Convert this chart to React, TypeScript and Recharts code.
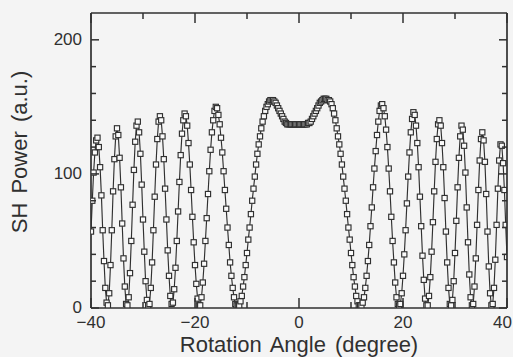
import React from 'react';
import { LineChart, Line, XAxis, YAxis } from 'recharts';

// Rotation angle (degree), 0.25 degree steps
const ANGLE = [
  -40, -39.75, -39.5, -39.25, -39, -38.75, -38.5, -38.25,
  -38, -37.75, -37.5, -37.25, -37, -36.75, -36.5, -36.25,
  -36, -35.75, -35.5, -35.25, -35, -34.75, -34.5, -34.25,
  -34, -33.75, -33.5, -33.25, -33, -32.75, -32.5, -32.25,
  -32, -31.75, -31.5, -31.25, -31, -30.75, -30.5, -30.25,
  -30, -29.75, -29.5, -29.25, -29, -28.75, -28.5, -28.25,
  -28, -27.75, -27.5, -27.25, -27, -26.75, -26.5, -26.25,
  -26, -25.75, -25.5, -25.25, -25, -24.75, -24.5, -24.25,
  -24, -23.75, -23.5, -23.25, -23, -22.75, -22.5, -22.25,
  -22, -21.75, -21.5, -21.25, -21, -20.75, -20.5, -20.25,
  -20, -19.75, -19.5, -19.25, -19, -18.75, -18.5, -18.25,
  -18, -17.75, -17.5, -17.25, -17, -16.75, -16.5, -16.25,
  -16, -15.75, -15.5, -15.25, -15, -14.75, -14.5, -14.25,
  -14, -13.75, -13.5, -13.25, -13, -12.75, -12.5, -12.25,
  -12, -11.75, -11.5, -11.25, -11, -10.75, -10.5, -10.25,
  -10, -9.75, -9.5, -9.25, -9, -8.75, -8.5, -8.25,
  -8, -7.75, -7.5, -7.25, -7, -6.75, -6.5, -6.25,
  -6, -5.75, -5.5, -5.25, -5, -4.75, -4.5, -4.25,
  -4, -3.75, -3.5, -3.25, -3, -2.75, -2.5, -2.25,
  -2, -1.75, -1.5, -1.25, -1, -0.75, -0.5, -0.25,
  0,
  0.25, 0.5, 0.75, 1, 1.25, 1.5, 1.75, 2,
  2.25, 2.5, 2.75, 3, 3.25, 3.5, 3.75, 4,
  4.25, 4.5, 4.75, 5, 5.25, 5.5, 5.75, 6,
  6.25, 6.5, 6.75, 7, 7.25, 7.5, 7.75, 8,
  8.25, 8.5, 8.75, 9, 9.25, 9.5, 9.75, 10,
  10.25, 10.5, 10.75, 11, 11.25, 11.5, 11.75, 12,
  12.25, 12.5, 12.75, 13, 13.25, 13.5, 13.75, 14,
  14.25, 14.5, 14.75, 15, 15.25, 15.5, 15.75, 16,
  16.25, 16.5, 16.75, 17, 17.25, 17.5, 17.75, 18,
  18.25, 18.5, 18.75, 19, 19.25, 19.5, 19.75, 20,
  20.25, 20.5, 20.75, 21, 21.25, 21.5, 21.75, 22,
  22.25, 22.5, 22.75, 23, 23.25, 23.5, 23.75, 24,
  24.25, 24.5, 24.75, 25, 25.25, 25.5, 25.75, 26,
  26.25, 26.5, 26.75, 27, 27.25, 27.5, 27.75, 28,
  28.25, 28.5, 28.75, 29, 29.25, 29.5, 29.75, 30,
  30.25, 30.5, 30.75, 31, 31.25, 31.5, 31.75, 32,
  32.25, 32.5, 32.75, 33, 33.25, 33.5, 33.75, 34,
  34.25, 34.5, 34.75, 35, 35.25, 35.5, 35.75, 36,
  36.25, 36.5, 36.75, 37, 37.25, 37.5, 37.75, 38,
  38.25, 38.5, 38.75, 39, 39.25, 39.5, 39.75, 40,
];

// SH power (a.u.)
const SH_POWER = [
  57, 80, 101, 116, 125, 127, 120, 105,
  84, 58, 35, 15, 4, 2, 11, 32,
  58, 87, 111, 128, 134, 129, 112, 90,
  63, 37, 16, 3, 2, 8, 26, 50,
  77, 103, 124, 136, 139, 131, 115, 92,
  66, 42, 20, 6, 2, 3, 15, 34,
  58, 83, 107, 126, 139, 143, 140, 128,
  111, 89, 66, 43, 24, 9, 3, 4,
  14, 30, 50, 72, 94, 114, 130, 140,
  145, 143, 136, 123, 107, 88, 68, 49,
  32, 18, 7, 2, 2, 8, 19, 33,
  50, 67, 85, 102, 118, 131, 140, 147,
  150, 149, 144, 137, 127, 116, 102, 88,
  74, 60, 47, 34, 24, 15, 8, 3,
  2, 2, 2, 5, 9, 16, 23, 32,
  41, 51, 60, 70, 80, 89, 98, 107,
  115, 122, 128, 134, 139, 143, 147, 150,
  152, 154, 155, 155, 155, 154, 153, 151,
  149, 147, 145, 143, 141, 139, 138, 137,
  137, 137, 137, 137, 137, 137, 137, 137,
  137,
  137, 137, 137, 137, 137, 137, 138, 138,
  139, 141, 143, 145, 147, 149, 151, 153,
  154, 155, 156, 156, 156, 155, 155, 154,
  152, 149, 145, 140, 134, 128, 122, 115,
  107, 98, 89, 80, 70, 60, 51, 41,
  32, 23, 16, 9, 5, 2, 2, 2,
  4, 8, 15, 24, 35, 47, 61, 75,
  90, 104, 117, 129, 139, 147, 151, 152,
  149, 143, 133, 120, 104, 87, 68, 50,
  34, 19, 8, 3, 2, 3, 11, 24,
  40, 58, 78, 98, 116, 131, 141, 146,
  144, 136, 123, 105, 83, 61, 39, 21,
  7, 2, 2, 9, 23, 42, 64, 87,
  109, 126, 137, 140, 136, 123, 105, 82,
  57, 34, 15, 3, 2, 6, 20, 41,
  65, 90, 112, 128, 136, 133, 121, 101,
  75, 49, 25, 8, 2, 3, 16, 37,
  62, 88, 110, 126, 131, 125, 109, 85,
  57, 31, 11, 2, 3, 15, 36, 62,
  89, 110, 122, 121, 108, 88, 62, 38,
];

const X_TICKS = [-40, -30, -20, -10, 0, 10, 20, 30, 40];
const X_LABELS = [-40, -20, 0, 20, 40];
const Y_TICKS = [0, 20, 40, 60, 80, 100, 120, 140, 160, 180, 200];
const Y_LABELS = [0, 100, 200];
const X_DOMAIN = [-40, 40];
const Y_DOMAIN = [0, 220];

const X_TITLE = 'Rotation Angle (degree)';
const Y_TITLE = 'SH Power (a.u.)';

const data = ANGLE.map((a, i) => ({ angle: a, power: SH_POWER[i] }));

const W = 513;
const H = 357;
const MARGIN = { top: 13, right: 6, bottom: 0, left: 0 };
const Y_AXIS_W = 91;
const X_AXIS_H = 49;
const PLOT_TOP = MARGIN.top;
const PLOT_RIGHT = W - MARGIN.right;
const PLOT_LEFT = MARGIN.left + Y_AXIS_W;
const PLOT_BOTTOM = H - MARGIN.bottom - X_AXIS_H;
const INK = '#303030';
const BG = '#f4f4f4';
const FONT = '"Liberation Sans", Arial, Helvetica, sans-serif';

const fmt = (v: number) => (v < 0 ? '\u2212' + Math.abs(v) : String(v));

function XTick(props: any) {
  const x = Number(props.x);
  const y = Number(props.y);
  const v = props.payload.value;
  const major = X_LABELS.includes(v);
  const len = major ? 10 : 6;
  const nearRight = x + 10 > W;
  return (
    <g>
      <line x1={x} x2={x} y1={y} y2={y - len} stroke={INK} strokeWidth={1.5} />
      <line x1={x} x2={x} y1={PLOT_TOP} y2={PLOT_TOP + len} stroke={INK} strokeWidth={1.5} />
      {v === X_DOMAIN[0] ? (
        <line x1={PLOT_LEFT} x2={PLOT_RIGHT} y1={PLOT_TOP} y2={PLOT_TOP} stroke={INK} strokeWidth={1.7} />
      ) : null}
      {major ? (
        <text
          x={nearRight ? W - 1 : x}
          y={y + 20}
          textAnchor={nearRight ? 'end' : 'middle'}
          fontSize={17}
          fontFamily={FONT}
          fill={INK}
        >
          {fmt(v)}
        </text>
      ) : null}
    </g>
  );
}

function YTick(props: any) {
  const x = Number(props.x);
  const y = Number(props.y);
  const v = props.payload.value;
  const major = Y_LABELS.includes(v);
  const len = major ? 8 : 5;
  return (
    <g>
      <line x1={x} x2={x + len} y1={y} y2={y} stroke={INK} strokeWidth={1.5} />
      <line x1={PLOT_RIGHT - len} x2={PLOT_RIGHT} y1={y} y2={y} stroke={INK} strokeWidth={1.5} />
      {v === Y_DOMAIN[0] ? (
        <line x1={PLOT_RIGHT} x2={PLOT_RIGHT} y1={PLOT_TOP} y2={PLOT_BOTTOM} stroke={INK} strokeWidth={1.7} />
      ) : null}
      {major ? (
        <text x={x - 9} y={y + 5} textAnchor="end" fontSize={17} fontFamily={FONT} fill={INK}>
          {fmt(v)}
        </text>
      ) : null}
    </g>
  );
}

function XTitle(props: any) {
  const vb = props.viewBox || { x: PLOT_LEFT, y: PLOT_BOTTOM, width: PLOT_RIGHT - PLOT_LEFT, height: X_AXIS_H };
  return (
    <text
      x={vb.x + vb.width / 2}
      y={vb.y + 44}
      textAnchor="middle"
      fontSize={22}
      fontFamily={FONT}
      fill={INK}
      style={{ wordSpacing: 3 }}
    >
      {X_TITLE}
    </text>
  );
}

function YTitle(props: any) {
  const vb = props.viewBox || { x: 0, y: PLOT_TOP, width: Y_AXIS_W, height: PLOT_BOTTOM - PLOT_TOP };
  const cx = vb.x + 27;
  const cy = vb.y + 139;
  return (
    <text
      x={cx}
      y={cy}
      transform={`rotate(-90 ${cx} ${cy})`}
      textAnchor="middle"
      fontSize={22}
      fontFamily={FONT}
      fill={INK}
      style={{ wordSpacing: 3 }}
    >
      {Y_TITLE}
    </text>
  );
}

function SquareDot(props: any) {
  const { cx, cy, index } = props;
  if (cx == null || cy == null) return <g key={`n-${index}`} />;
  return (
    <rect
      key={`d-${index}`}
      x={cx - 2.6}
      y={cy - 2.6}
      width={5.2}
      height={5.2}
      fill="#fafafa"
      stroke={INK}
      strokeWidth={1.15}
    />
  );
}

export default function App() {
  return (
    <div style={{ position: 'fixed', left: 0, top: 0, width: W, height: H, background: BG }}>
      <LineChart width={W} height={H} data={data} margin={MARGIN}>
        <XAxis
          dataKey="angle"
          type="number"
          domain={X_DOMAIN}
          ticks={X_TICKS}
          interval={0}
          allowDataOverflow
          tickLine={false}
          axisLine={{ stroke: INK, strokeWidth: 1.7 }}
          tickSize={0}
          tickMargin={0}
          height={X_AXIS_H}
          tick={(p: any) => <XTick {...p} />}
          label={{ content: (p: any) => <XTitle {...p} /> }}
        />
        <YAxis
          type="number"
          domain={Y_DOMAIN}
          ticks={Y_TICKS}
          interval={0}
          allowDataOverflow
          tickLine={false}
          axisLine={{ stroke: INK, strokeWidth: 1.7 }}
          tickSize={0}
          tickMargin={0}
          width={Y_AXIS_W}
          tick={(p: any) => <YTick {...p} />}
          label={{ content: (p: any) => <YTitle {...p} /> }}
        />
        <Line
          type="linear"
          dataKey="power"
          stroke={INK}
          strokeWidth={1.15}
          dot={(p: any) => <SquareDot key={`sq-${p.index}`} {...p} />}
          activeDot={false}
          isAnimationActive={false}
        />
      </LineChart>
    </div>
  );
}
